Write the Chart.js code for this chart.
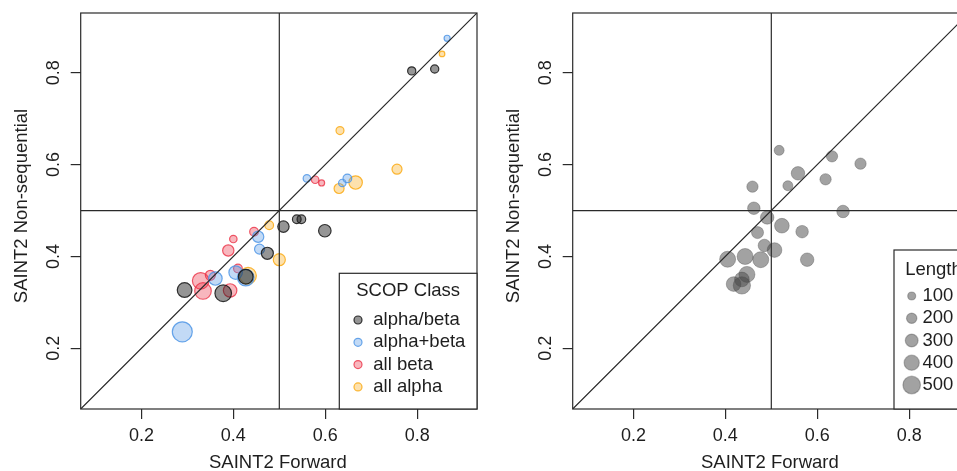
<!DOCTYPE html>
<html><head><meta charset="utf-8">
<script src="https://cdn.jsdelivr.net/npm/chart.js@4/dist/chart.umd.min.js"></script>
<style>
html,body{margin:0;padding:0;width:957px;height:471px;overflow:hidden;background:#fff;}
#wrap{position:relative;width:957px;height:471px;overflow:hidden;}
canvas{position:absolute;top:0;}
#c1{left:0;} #c2{left:492px;}
</style></head><body>
<div id="wrap"><canvas id="c1" width="492" height="471"></canvas><canvas id="c2" width="492" height="471"></canvas></div>
<script>
// ---- axis / labels ----
const AXIS_MIN = 0.068, AXIS_MAX = 0.93, REF = 0.5;
const TICKS = [0.2, 0.4, 0.6, 0.8];
const X_TITLE = 'SAINT2 Forward';
const Y_TITLE = 'SAINT2 Non-sequential';
const SCOP_CLASSES = ['alpha/beta', 'alpha+beta', 'all beta', 'all alpha'];
const LEGEND_TITLE_LEFT = 'SCOP Class';
const LEGEND_TITLE_RIGHT = 'Length';
const LEGEND_LENGTHS = [100, 200, 300, 400, 500];

// ---- left panel data (per SCOP class) ----
const alphaBetaForward = [0.788, 0.838, 0.509, 0.538, 0.548, 0.599, 0.474, 0.427, 0.294, 0.378];
const alphaBetaNonseq  = [0.804, 0.808, 0.465, 0.481, 0.481, 0.456, 0.407, 0.356, 0.327, 0.320];
const alphaBetaLength  = [150, 150, 280, 170, 170, 330, 310, 420, 420, 500];

const alphaPlusBetaForward = [0.865, 0.560, 0.637, 0.648, 0.454, 0.457, 0.405, 0.427, 0.361, 0.289];
const alphaPlusBetaNonseq  = [0.875, 0.570, 0.560, 0.570, 0.443, 0.416, 0.365, 0.354, 0.352, 0.236];
const alphaPlusBetaLength  = [60, 120, 120, 170, 280, 225, 370, 500, 370, 640];

const allBetaForward = [0.578, 0.592, 0.445, 0.400, 0.389, 0.410, 0.350, 0.329, 0.334, 0.393];
const allBetaNonseq  = [0.567, 0.560, 0.454, 0.438, 0.413, 0.374, 0.359, 0.347, 0.325, 0.326];
const allBetaLength  = [120, 60, 170, 120, 280, 170, 225, 500, 500, 370];

const allAlphaForward = [0.854, 0.632, 0.756, 0.630, 0.666, 0.478, 0.500, 0.432];
const allAlphaNonseq  = [0.841, 0.674, 0.590, 0.548, 0.561, 0.468, 0.393, 0.358];
const allAlphaLength  = [40, 140, 225, 225, 370, 170, 310, 500];

// ---- right panel data ----
const lengthForward = [0.517,0.632,0.694,0.558,0.618,0.536,0.459,0.462,0.656,0.491,0.523,0.567,0.470,0.485,0.507,0.405,0.443,0.477,0.578,0.447,0.436,0.418,0.436];
const lengthNonseq  = [0.631,0.618,0.602,0.581,0.568,0.554,0.552,0.505,0.498,0.485,0.467,0.454,0.452,0.424,0.414,0.394,0.400,0.393,0.393,0.361,0.350,0.340,0.337];
const lengthValues  = [225,280,280,370,280,225,280,330,330,370,420,330,310,330,420,475,475,475,370,475,420,420,530];

// ---- styles ----
const FONT = "'Liberation Sans', Arial, Helvetica, sans-serif";
const INK = '#1e1e1e';
const TICK_SIZE = 18, TITLE_SIZE = 18.5, LEGEND_SIZE = 18.5;
const CLASS_STYLE = [
  {fill: 'rgba(20,20,20,0.45)',   border: 'rgba(20,20,20,0.85)'},
  {fill: 'rgba(80,150,230,0.35)', border: 'rgba(80,150,230,0.85)'},
  {fill: 'rgba(235,50,70,0.35)',  border: 'rgba(235,50,70,0.8)'},
  {fill: 'rgba(250,170,20,0.35)', border: 'rgba(250,170,20,0.85)'}
];
const GRAY_STYLE = {fill: 'rgba(70,70,70,0.5)', border: 'rgba(70,70,70,0.35)'};
const radiusFor = L => 2.3 + 1.2 * L / 100;

function pts(fx, fy, len) {
  return fx.map((x, i) => ({x: x, y: fy[i], r: radiusFor(len[i])}));
}

function drawText(ctx, txt, x, y, size, align, rot) {
  ctx.save();
  ctx.translate(x, y);
  if (rot) ctx.rotate(rot);
  ctx.font = size + 'px ' + FONT;
  ctx.fillStyle = INK;
  ctx.textAlign = align || 'center';
  ctx.textBaseline = 'middle';
  ctx.fillText(txt, 0, 0);
  ctx.restore();
}

function framePlugin(legendFn) {
  return {
    id: 'frame',
    afterDatasetsDraw(chart) {
      const ctx = chart.ctx, ca = chart.chartArea;
      const xs = chart.scales.x, ys = chart.scales.y;
      ctx.save();
      ctx.beginPath();
      ctx.rect(ca.left, ca.top, ca.right - ca.left, ca.bottom - ca.top);
      ctx.clip();
      ctx.strokeStyle = '#2a2a2a';
      ctx.lineWidth = 1.2;
      ctx.beginPath();
      ctx.moveTo(xs.getPixelForValue(AXIS_MIN), ys.getPixelForValue(AXIS_MIN));
      ctx.lineTo(xs.getPixelForValue(AXIS_MAX), ys.getPixelForValue(AXIS_MAX));
      ctx.moveTo(xs.getPixelForValue(REF), ca.top);
      ctx.lineTo(xs.getPixelForValue(REF), ca.bottom);
      ctx.moveTo(ca.left, ys.getPixelForValue(REF));
      ctx.lineTo(ca.right, ys.getPixelForValue(REF));
      ctx.stroke();
      ctx.restore();
      // box
      ctx.save();
      ctx.strokeStyle = '#2a2a2a';
      ctx.lineWidth = 1.2;
      ctx.strokeRect(ca.left, ca.top, ca.right - ca.left, ca.bottom - ca.top);
      ctx.restore();
      legendFn(chart);
      // y tick labels (rotated, as in R)
      TICKS.forEach(t => drawText(ctx, t.toFixed(1), 54, ys.getPixelForValue(t), TICK_SIZE, 'center', -Math.PI / 2));
      // axis titles
      drawText(ctx, Y_TITLE, 21.5, (ca.top + ca.bottom) / 2 - 5, TITLE_SIZE, 'center', -Math.PI / 2);
      drawText(ctx, X_TITLE, (ca.left + ca.right) / 2 - 1, 463, TITLE_SIZE, 'center', 0);
    }
  };
}

function circle(ctx, x, y, r, st) {
  ctx.beginPath();
  ctx.arc(x, y, r, 0, Math.PI * 2);
  ctx.fillStyle = st.fill; ctx.fill();
  ctx.strokeStyle = st.border; ctx.lineWidth = 1.2; ctx.stroke();
}

function legendLeft(chart) {
  const ctx = chart.ctx, ca = chart.chartArea;
  const left = ca.right - 137.7, top = ca.bottom - 135.7;
  ctx.save();
  ctx.fillStyle = '#fff';
  ctx.fillRect(left, top, ca.right - left, ca.bottom - top);
  ctx.strokeStyle = '#2a2a2a'; ctx.lineWidth = 1.2;
  ctx.strokeRect(left, top, ca.right - left, ca.bottom - top);
  drawText(ctx, LEGEND_TITLE_LEFT, (left + ca.right) / 2, top + 17.4, LEGEND_SIZE, 'center', 0);
  SCOP_CLASSES.forEach((name, i) => {
    const y = top + 46.7 + i * 22.3;
    circle(ctx, left + 18.7, y, 4, CLASS_STYLE[i]);
    drawText(ctx, name, left + 34, y, LEGEND_SIZE, 'left', 0);
  });
  ctx.restore();
}

function legendRight(chart) {
  const ctx = chart.ctx, ca = chart.chartArea;
  const left = ca.right - 75, top = ca.bottom - 159;
  ctx.save();
  ctx.fillStyle = '#fff';
  ctx.fillRect(left, top, ca.right - left, ca.bottom - top);
  ctx.strokeStyle = '#2a2a2a'; ctx.lineWidth = 1.2;
  ctx.strokeRect(left, top, ca.right - left, ca.bottom - top);
  drawText(ctx, LEGEND_TITLE_RIGHT, (left + ca.right) / 2 + 2, top + 20, LEGEND_SIZE, 'center', 0);
  LEGEND_LENGTHS.forEach((L, i) => {
    const y = top + 46 + i * 22.25;
    circle(ctx, left + 17.7, y, radiusFor(L) + 0.5, GRAY_STYLE);
    drawText(ctx, String(L), left + 28.5, y, LEGEND_SIZE, 'left', 0);
  });
  ctx.restore();
}

function scaleOpts(isX) {
  const o = {
    type: 'linear',
    min: AXIS_MIN, max: AXIS_MAX,
    afterBuildTicks: s => { s.ticks = TICKS.map(v => ({value: v})); },
    grid: {drawOnChartArea: false, drawTicks: true, tickLength: 10, color: '#2a2a2a', lineWidth: 1.2},
    border: {display: false},
    ticks: {display: isX, font: {family: FONT, size: TICK_SIZE}, color: INK, padding: 6,
             maxRotation: 0, autoSkip: false, callback: v => Number(v).toFixed(1)}
  };
  if (isX) o.afterFit = s => { s.height = 62; };
  else o.afterFit = s => { s.width = 80.7; };
  return o;
}

function makeChart(id, datasets, legendFn) {
  return new Chart(document.getElementById(id), {
    type: 'bubble',
    data: {datasets: datasets},
    options: {
      responsive: false, animation: false, events: [],
      layout: {padding: {left: 0, right: 15, top: 13, bottom: 0}, autoPadding: false},
      plugins: {legend: {display: false}, tooltip: {enabled: false}},
      scales: {x: scaleOpts(true), y: scaleOpts(false)}
    },
    plugins: [framePlugin(legendFn)]
  });
}

const leftSets = [
  [alphaBetaForward, alphaBetaNonseq, alphaBetaLength],
  [alphaPlusBetaForward, alphaPlusBetaNonseq, alphaPlusBetaLength],
  [allBetaForward, allBetaNonseq, allBetaLength],
  [allAlphaForward, allAlphaNonseq, allAlphaLength]
].map((s, i) => ({
  label: SCOP_CLASSES[i],
  data: pts(s[0], s[1], s[2]),
  backgroundColor: CLASS_STYLE[i].fill,
  borderColor: CLASS_STYLE[i].border,
  borderWidth: 1.2
}));

makeChart('c1', leftSets, legendLeft);
makeChart('c2', [{
  label: LEGEND_TITLE_RIGHT,
  data: pts(lengthForward, lengthNonseq, lengthValues),
  backgroundColor: GRAY_STYLE.fill,
  borderColor: GRAY_STYLE.border,
  borderWidth: 1
}], legendRight);
</script>
</body></html>
